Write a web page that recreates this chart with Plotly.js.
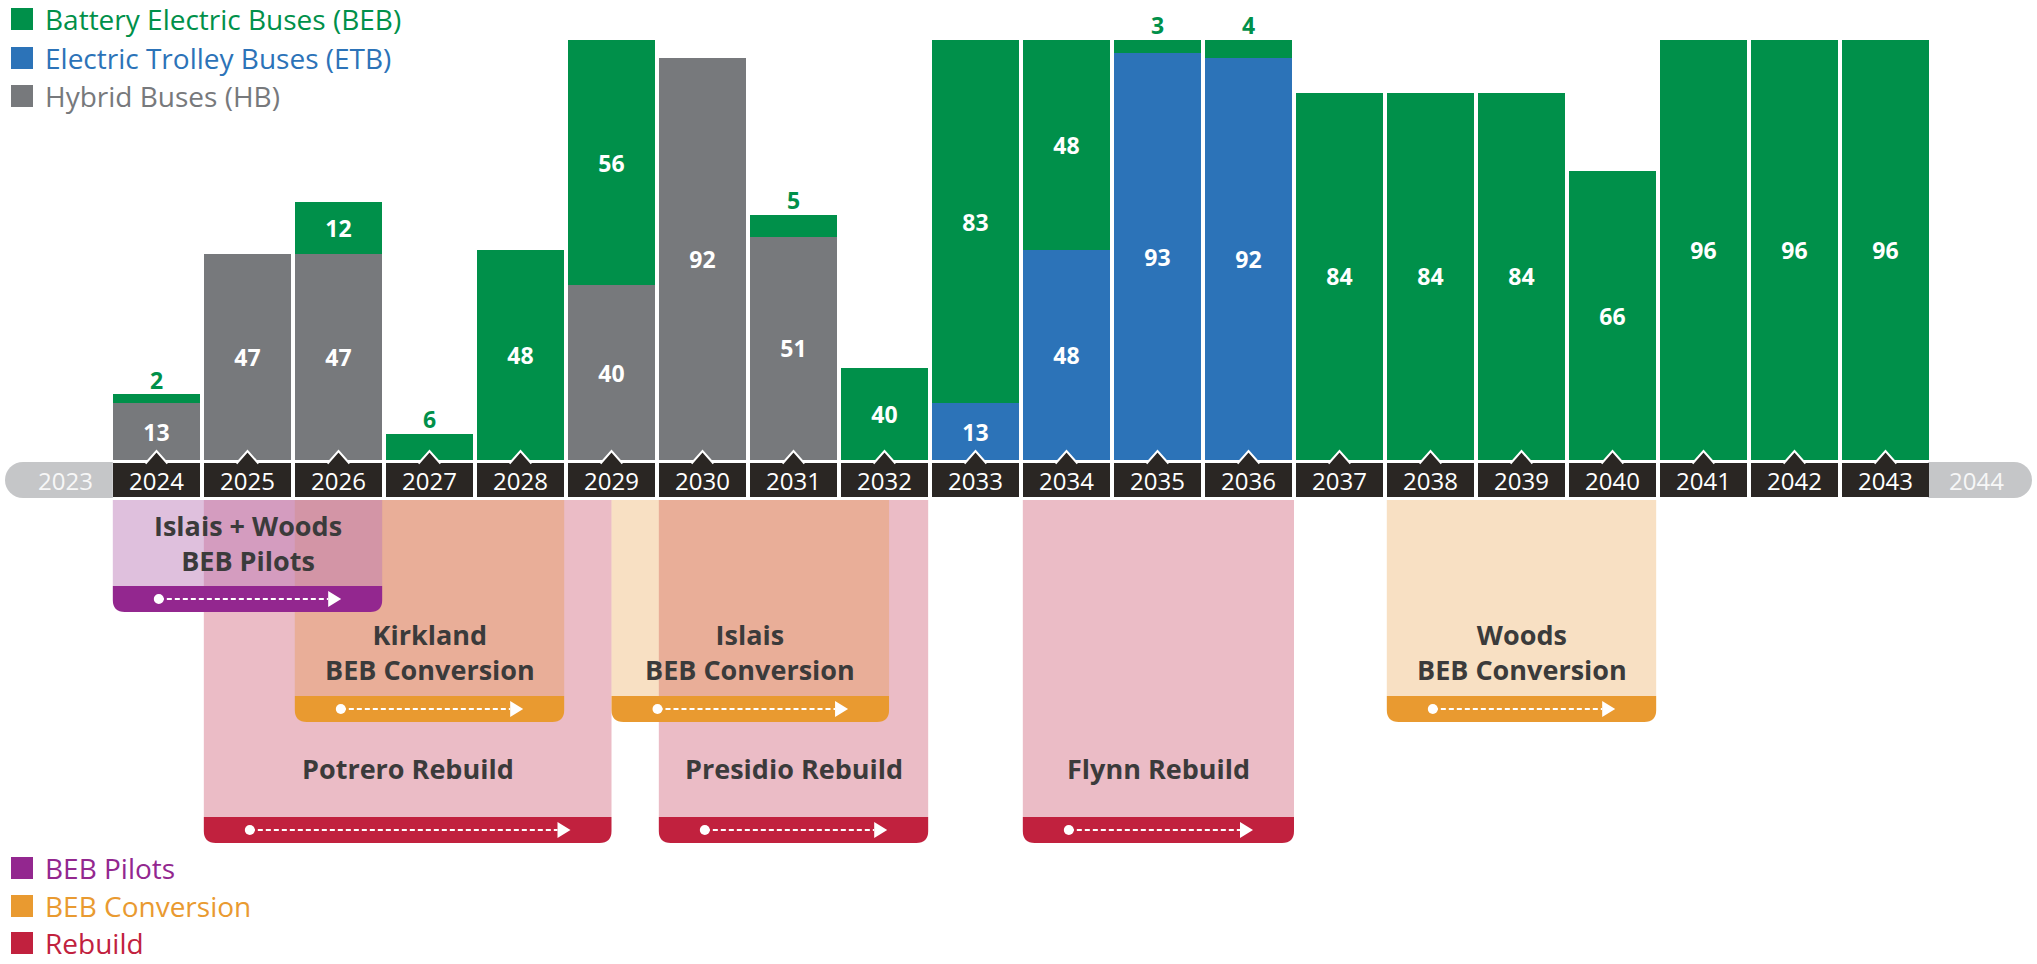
<!DOCTYPE html>
<html>
<head>
<meta charset="utf-8">
<script src="https://cdn.plot.ly/plotly-3.0.1.min.js"></script>
<style>html,body{margin:0;padding:0;background:#fff;overflow:hidden}</style>
</head>
<body>
<div id="chart" style="width:2037px;height:964px"></div>
<script>
// ---------------- DATA ----------------
const years   = [2024,2025,2026,2027,2028,2029,2030,2031,2032,2033,2034,2035,2036,2037,2038,2039,2040,2041,2042,2043];
const hybrid  = [13,47,47,0,0,40,92,51,0,0,0,0,0,0,0,0,0,0,0,0];
const trolley = [0,0,0,0,0,0,0,0,0,13,48,93,92,0,0,0,0,0,0,0];
// bar heights as drawn in the reference (the 2032 bar is drawn at ~21 although it is labelled 40)
const battery = [2,0,12,6,48,56,0,5,21,83,48,3,4,84,84,84,66,96,96,96];
// numbers printed on the bars
const hybridLabels  = [13,47,47,0,0,40,92,51,0,0,0,0,0,0,0,0,0,0,0,0];
const trolleyLabels = [0,0,0,0,0,0,0,0,0,13,48,93,92,0,0,0,0,0,0,0];
const batteryLabels = [2,0,12,6,48,56,0,5,40,83,48,3,4,84,84,84,66,96,96,96];
const seriesNames = ['Battery Electric Buses (BEB)','Electric Trolley Buses (ETB)','Hybrid Buses (HB)'];
const endYears = [2023, 2044];

const programNames = ['Potrero Rebuild','Presidio Rebuild','Flynn Rebuild',
                      'Kirkland<br>BEB Conversion','Islais<br>BEB Conversion','Woods<br>BEB Conversion',
                      'Islais + Woods<br>BEB Pilots'];
const programTypes = ['Rebuild','Rebuild','Rebuild','BEB Conversion','BEB Conversion','BEB Conversion','BEB Pilots'];
const programStart = [2024.52, 2029.52, 2033.52, 2025.52, 2029.0, 2037.52, 2023.52];
const programEnd   = [2029.0, 2032.48, 2036.5, 2028.48, 2032.05, 2040.48, 2026.48];
const programLegend = ['BEB Pilots','BEB Conversion','Rebuild'];

// ---------------- STYLE / GEOMETRY ----------------
const W = 2037, H = 964;
const PXY = 91;                 // pixels per year
const X0 = 2024 - 156.5/PXY;    // data x at left edge
const X1 = X0 + W/PXY;
const BASE = 460, PXU = 4.375;  // baseline pixel, pixels per bus
const YD = py => (BASE - py)/PXU;
const dx = px => px/PXY;
const dy = px => px/PXU;

const C_BEB = '#00904a', C_ETB = '#2c73b8', C_HB = '#77797c';
const C_DARK = '#2a2623', C_PILL = '#c5c6c8';
const FONT = 'Open Sans';
const typeStyle = {
  'Rebuild':        {fill:'#ebbcc6', op:1,    strip:'#c1213e', st:817, sb:843, textY:768},
  'BEB Conversion': {fill:'#e48410', op:0.25, strip:'#e99a30', st:696, sb:722, textY:652},
  'BEB Pilots':     {fill:'#bb79b7', op:0.47, strip:'#93278f', st:586, sb:612, textY:543}
};
const BOX_TOP = 500, R = 12;

// ---------------- TRACES ----------------
const inside = arr => arr.map(v => v >= 10 ? String(v) : '');
const barCommon = {
  type:'bar', x: years, width: 0.956, textposition:'inside', insidetextanchor:'middle',
  textangle:0, constraintext:'none', hoverinfo:'skip',
  textfont:{family:FONT, size:23, color:'#ffffff', weight:700}
};
const traces = [
  Object.assign({}, barCommon, {name:seriesNames[2], y:hybrid, text:inside(hybridLabels), marker:{color:C_HB, line:{width:0}}}),
  Object.assign({}, barCommon, {name:seriesNames[1], y:trolley, text:inside(trolleyLabels), marker:{color:C_ETB, line:{width:0}}}),
  Object.assign({}, barCommon, {name:seriesNames[0], y:battery, text:inside(batteryLabels), marker:{color:C_BEB, line:{width:0}}})
];
// small BEB additions labelled above the stack
const smallX = [], smallY = [], smallT = [];
years.forEach((yr,i) => {
  if (batteryLabels[i] > 0 && batteryLabels[i] < 10) {
    smallX.push(yr); smallY.push(hybrid[i]+trolley[i]+battery[i]); smallT.push(String(batteryLabels[i]));
  }
});
traces.push({type:'scatter', mode:'text', x:smallX, y:smallY, text:smallT, textposition:'top center',
  cliponaxis:false, hoverinfo:'skip', showlegend:false,
  textfont:{family:FONT, size:23, color:C_BEB, weight:700}});

// ---------------- SHAPES ----------------
const shapes = [];
const annotations = [];
// timeline end pills
const pillTop = YD(462), pillBot = YD(498), pr = 18;
shapes.push({type:'rect', xref:'x', yref:'y', x0:endYears[0]-0.665+dx(pr), x1:endYears[0]+0.52, y0:pillBot, y1:pillTop, fillcolor:C_PILL, line:{width:0}});
shapes.push({type:'circle', xref:'x', yref:'y', x0:endYears[0]-0.665, x1:endYears[0]-0.665+dx(2*pr), y0:pillBot, y1:pillTop, fillcolor:C_PILL, line:{width:0}});
shapes.push({type:'rect', xref:'x', yref:'y', x0:endYears[1]-0.53, x1:endYears[1]+0.61-dx(pr), y0:pillBot, y1:pillTop, fillcolor:C_PILL, line:{width:0}});
shapes.push({type:'circle', xref:'x', yref:'y', x0:endYears[1]+0.61-dx(2*pr), x1:endYears[1]+0.61, y0:pillBot, y1:pillTop, fillcolor:C_PILL, line:{width:0}});
endYears.forEach(yr => annotations.push({xref:'x', yref:'y', x:yr, y:YD(480), text:String(yr), showarrow:false,
  font:{family:FONT, size:24, color:'#f7f7f7'}, xanchor:'center', yanchor:'middle'}));

// year boxes and notches
years.forEach(yr => {
  shapes.push({type:'rect', xref:'x', yref:'y', x0:yr-0.478, x1:yr+0.478, y0:YD(497), y1:YD(463), fillcolor:C_DARK, line:{width:0}});
  shapes.push({type:'path', xref:'x', yref:'y',
    path:`M ${yr-dx(11)},${YD(463.5)} L ${yr},${YD(451)} L ${yr+dx(11)},${YD(463.5)}`,
    fillcolor:C_DARK, line:{color:'#ffffff', width:2}});
  annotations.push({xref:'x', yref:'y', x:yr, y:YD(480), text:String(yr), showarrow:false,
    font:{family:FONT, size:24, color:'#ffffff'}, xanchor:'center', yanchor:'middle'});
});

// program boxes
function stripPath(x0, x1, t, b) {
  const rx = dx(R), ry = dy(R);
  const yt = YD(t), yb = YD(b);
  return `M ${x0},${yt} L ${x1},${yt} L ${x1},${yb+ry} Q ${x1},${yb} ${x1-rx},${yb} L ${x0+rx},${yb} Q ${x0},${yb} ${x0},${yb+ry} Z`;
}
const order = ['Rebuild','BEB Conversion','BEB Pilots'];
order.forEach(tp => {
  programNames.forEach((nm, i) => {
    if (programTypes[i] !== tp) return;
    const s = typeStyle[tp];
    const a = programStart[i], b = programEnd[i];
    shapes.push({type:'rect', xref:'x', yref:'y', x0:a, x1:b, y0:YD(s.st), y1:YD(BOX_TOP),
      fillcolor:s.fill, opacity:s.op, line:{width:0}});
    shapes.push({type:'path', xref:'x', yref:'y', path:stripPath(a, b, s.st, s.sb), fillcolor:s.strip, line:{width:0}});
    const cy = YD((s.st + s.sb)/2);
    const dotX = a + dx(46), tipX = b - dx(41), baseX = tipX - dx(13);
    shapes.push({type:'line', xref:'x', yref:'y', x0:dotX, x1:baseX, y0:cy, y1:cy, line:{color:'#ffffff', width:2, dash:'5px,3px'}});
    shapes.push({type:'circle', xref:'x', yref:'y', x0:dotX-dx(5), x1:dotX+dx(5), y0:cy-dy(5), y1:cy+dy(5), fillcolor:'#ffffff', line:{width:0}});
    shapes.push({type:'path', xref:'x', yref:'y', path:`M ${baseX},${cy+dy(8)} L ${tipX},${cy} L ${baseX},${cy-dy(8)} Z`, fillcolor:'#ffffff', line:{width:0}});
    annotations.push({xref:'x', yref:'y', x:(a+b)/2, y:YD(s.textY), text:nm, showarrow:false,
      xanchor:'center', yanchor:'middle', align:'center',
      font:{family:FONT, size:27, color:'#3b3b3b', weight:700}});
  });
});

// legends (manual)
function legendItem(px, pyc, color, label) {
  shapes.push({type:'rect', xref:'paper', yref:'paper', x0:px/W, x1:(px+22)/W, y0:1-(pyc+11)/H, y1:1-(pyc-11)/H, fillcolor:color, line:{width:0}});
  annotations.push({xref:'paper', yref:'paper', x:(px+32)/W, y:1-pyc/H, text:label, showarrow:false,
    xanchor:'left', yanchor:'middle', font:{family:FONT, size:28, color:color}});
}
legendItem(11, 19, C_BEB, seriesNames[0]);
legendItem(11, 58, C_ETB, seriesNames[1]);
legendItem(11, 96, C_HB, seriesNames[2]);
legendItem(11, 868, typeStyle['BEB Pilots'].strip, programLegend[0]);
legendItem(11, 906, typeStyle['BEB Conversion'].strip, programLegend[1]);
legendItem(11, 943, typeStyle['Rebuild'].strip, programLegend[2]);

const layout = {
  width: W, height: H, margin:{l:0, r:0, t:0, b:0, pad:0},
  paper_bgcolor:'#ffffff', plot_bgcolor:'#ffffff',
  barmode:'stack', showlegend:false, hovermode:false,
  xaxis:{range:[X0, X1], visible:false, fixedrange:true},
  yaxis:{range:[YD(H), YD(0)], visible:false, fixedrange:true},
  shapes: shapes, annotations: annotations
};
Plotly.newPlot('chart', traces, layout, {displayModeBar:false, staticPlot:true});
</script>
</body>
</html>
